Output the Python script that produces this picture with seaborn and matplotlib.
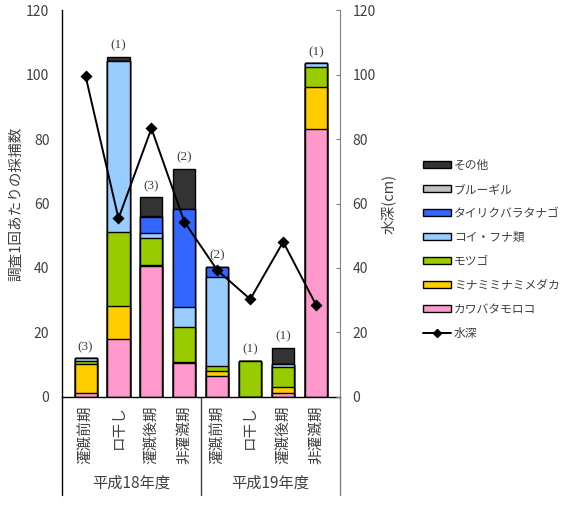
import numpy as np
import pandas as pd
import seaborn as sns
import matplotlib.pyplot as plt
from matplotlib.patches import Patch
from matplotlib.lines import Line2D

# Category labels
years = ['平成18年度', '平成19年度']
seasons = ['灌漑前期', 'ロ干し', '灌漑後期', '非灌漑期']

# Catch per survey by species (bottom to top of the stack)
kawabata = [1.2, 18.1, 40.6, 10.6, 6.5, 0.0, 1.1, 83.1]
medaka = [9.0, 10.1, 0.3, 0.3, 1.5, 0.0, 2.0, 13.2]
motsugo = [0.9, 23.0, 8.3, 10.8, 1.6, 11.2, 6.2, 6.0]
koi_funa = [0.8, 53.1, 1.5, 6.1, 27.7, 0.0, 0.9, 1.2]
tairiku = [0.0, 0.0, 5.2, 30.5, 2.9, 0.0, 0.0, 0.0]
bluegill = [0.0, 0.0, 0.3, 0.0, 0.0, 0.0, 0.0, 0.0]
sonota = [0.0, 1.3, 5.7, 12.4, 0.0, 0.0, 5.1, 0.0]

# Water depth (cm) and number of surveys
depth = [99.6, 55.4, 83.3, 54.3, 39.3, 30.3, 48.1, 28.5]
n_surveys = ['(3)', '(1)', '(3)', '(2)', '(2)', '(1)', '(1)', '(1)']

species = ['カワバタモロコ', 'ミナミミナミメダカ', 'モツゴ', 'コイ・フナ類',
           'タイリクバラタナゴ', 'ブルーギル', 'その他']
colors = ['#ff99cc', '#ffcc00', '#99cc00', '#99ccff', '#3366ff', '#c0c0c0', '#333333']
layers = [kawabata, medaka, motsugo, koi_funa, tairiku, bluegill, sonota]

keys = [f'{y}_{s}' for y in years for s in seasons]
df = pd.DataFrame({sp: v for sp, v in zip(species, layers)}, index=keys)
cum = df.cumsum(axis=1)

sns.set_style('white')
plt.rcParams['font.family'] = ['Noto Sans CJK JP', 'DejaVu Sans']
text_col = '#404040'

fig = plt.figure(figsize=(5.73, 5.14), dpi=100)
ax = fig.add_axes([0.108, 0.228, 0.485, 0.752])

# stacked bars: draw cumulative totals from top layer down
top_container = None
for sp, col in reversed(list(zip(species, colors))):
    sns.barplot(x=keys, y=cum[sp].values, color=col, saturation=1,
                edgecolor='black', linewidth=1.0, width=0.67, ax=ax)
    if top_container is None:
        top_container = ax.containers[-1]

ax.bar_label(top_container, labels=n_surveys, padding=4,
             fontsize=9.5, family='Liberation Serif', color=text_col)

ax.set_ylim(0, 120)
ax.set_yticks(np.arange(0, 121, 20))
ax.set_xticks(range(len(keys)))
ax.set_xticklabels(seasons * 2, rotation=90, fontsize=10.5, color=text_col)
ax.tick_params(axis='x', length=0, pad=6)
ax.tick_params(axis='y', length=0, pad=9, labelsize=10, labelcolor=text_col)
ax.set_ylabel('調査1回あたりの採捕数', fontsize=10.5, color=text_col, labelpad=2)
ax.set_xlabel('')
for s in ['top', 'right']:
    ax.spines[s].set_visible(False)
for s in ['left', 'bottom']:
    ax.spines[s].set_color('black')
    ax.spines[s].set_linewidth(1.0)

# water depth on the right axis
ax2 = ax.twinx()
sns.pointplot(x=keys, y=depth, color='black', markers='D', markersize=5,
              linewidth=1.4, errorbar=None, ax=ax2)
ax2.set_ylim(0, 120)
ax2.set_yticks(np.arange(0, 121, 20))
ax2.tick_params(axis='y', direction='in', length=3, color='#808080',
                pad=9, labelsize=10, labelcolor=text_col)
ax2.set_ylabel('水深(cm)', fontsize=10.5, color=text_col, labelpad=4)
for s in ['top', 'left', 'bottom']:
    ax2.spines[s].set_visible(False)
ax2.spines['right'].set_color('#808080')

# group separators and year labels below the axis
for xpos, col in [(0, 'black'), (0.5, '#404040'), (1, '#808080')]:
    ax.plot([xpos, xpos], [0, -0.254], transform=ax.transAxes,
            clip_on=False, color=col, lw=1.0)
for i, y in enumerate(years):
    ax.text(0.25 + 0.5 * i, -0.223, y, transform=ax.transAxes,
            ha='center', va='center', fontsize=11, color=text_col)

# legend
handles = [Patch(facecolor=c, edgecolor='black', linewidth=1.0, label=s)
           for s, c in zip(species, colors)][::-1]
handles.append(Line2D([], [], color='black', marker='D', markersize=4,
                      linewidth=1.4, label='水深'))
fig.legend(handles=handles, loc='upper left', bbox_to_anchor=(423 / 573, 1 - 159 / 514),
           frameon=False, fontsize=8.5, handlelength=2.4, handleheight=0.5,
           handletextpad=0.2, labelspacing=0.93, borderpad=0, borderaxespad=0,
           labelcolor=text_col)

fig.savefig('out.png', dpi=100)
plt.close(fig)
